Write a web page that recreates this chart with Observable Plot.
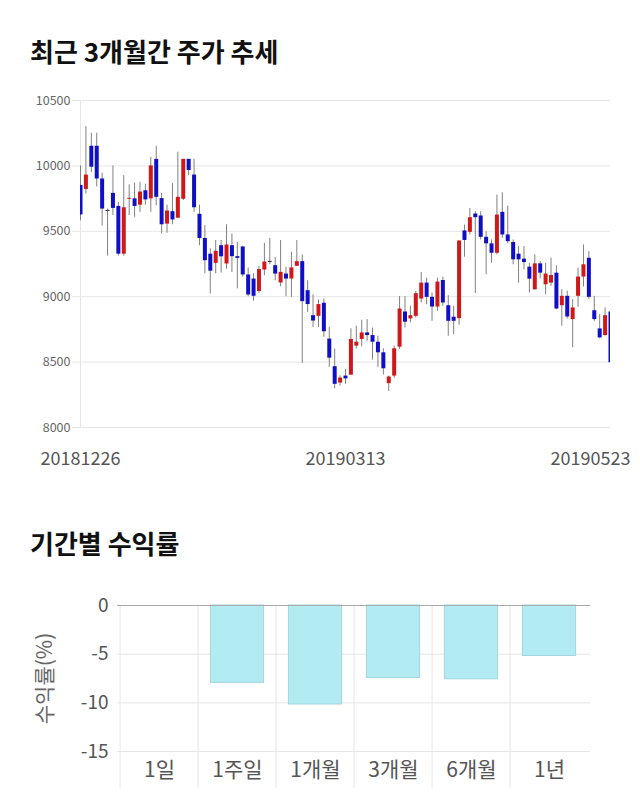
<!DOCTYPE html>
<html><head><meta charset="utf-8">
<script src="https://cdn.jsdelivr.net/npm/d3@7"></script>
<script src="https://cdn.jsdelivr.net/npm/@observablehq/plot@0.6"></script>
<style>
body{margin:0;background:#fff;width:640px;height:810px;position:relative;overflow:hidden;font-family:"Noto Sans CJK KR","Noto Sans",sans-serif;}
.title{position:absolute;left:30px;font-size:26px;font-weight:700;line-height:30px;color:#111;white-space:nowrap}
#c1{position:absolute;left:0;top:80px}
#c2{position:absolute;left:0;top:580px}
</style></head><body>
<div class="title" style="top:36px">최근 3개월간 주가 추세</div>
<div id="c1"></div>
<div class="title" style="top:528px">기간별 수익률</div>
<div id="c2"></div>
<script>
// ---- Candlestick data (daily, 20181226 .. 20190523) ----
const open  = [9850,9820,10150,10150,9900,9660,9790,9690,9325,9745,9748,9700,9810,9748,10050,9750,9555,9650,9600,9745,10050,9930,9630,9445,9325,9255,9390,9250,9390,9306,9380,9166,9135,9040,9204,9270,9237,9105,9173,9135,9232,9268,9046,8855,8850,8950,8676,8465,8340,8393,8400,8622,8673,8723,8703,8652,8571,8335,8393,8614,8883,8830,8850,8982,9104,8995,8921,9124,8931,8843,8832,9503,9492,9632,9617,9454,9404,9332,9645,9472,9414,9325,9287,9226,9053,9251,9091,9104,9180,8931,9003,8825,9003,9150,9294,8893,8754,8703,8883];
const high  = [10000,10300,10250,10250,9945,9670,10000,9720,9925,9855,9870,9875,9860,10065,10150,9790,9700,9865,10105,10050,10050,10050,9700,9545,9365,9430,9430,9550,9480,9415,9385,9220,9175,9230,9408,9445,9300,9430,9225,9340,9430,9320,9122,9015,8975,8982,8765,8600,8395,8445,8755,8775,8820,8825,8760,8698,8602,8393,8622,9002,9002,8926,9040,9185,9142,9028,9142,9150,9008,8926,9426,9548,9675,9650,9650,9497,9434,9777,9794,9693,9434,9383,9383,9256,9320,9269,9256,9294,9236,9053,9041,8977,9218,9396,9345,9003,8863,8914,8883];
const low   = [9580,9785,9950,9840,9540,9310,9620,9310,9310,9620,9607,9645,9700,9645,9695,9480,9485,9550,9595,9735,9925,9645,9390,9175,9020,9175,9180,9210,9185,9060,9148,9000,8965,9025,9160,9245,9122,9076,9000,8995,9230,8490,8880,8765,8765,8690,8460,8295,8318,8330,8398,8600,8617,8660,8515,8457,8401,8274,8376,8596,8761,8800,8838,8952,8939,8812,8888,8926,8698,8710,8782,9302,9472,9025,9434,9168,9256,9320,9447,9404,9244,9104,9206,9028,9048,9135,9015,9079,8901,8774,8830,8609,8919,9074,8977,8812,8678,8698,8370];
const close = [9625,9930,9990,9900,9670,9660,9675,9325,9680,9752,9690,9800,9740,10000,9760,9550,9655,9587,9760,10050,9965,9680,9445,9275,9195,9347,9305,9395,9306,9293,9166,9013,9003,9207,9265,9270,9173,9186,9135,9220,9268,8962,8940,8814,8940,8732,8530,8330,8378,8372,8673,8652,8723,8703,8652,8571,8449,8386,8602,8906,8805,8855,9023,9104,8995,8921,9112,8952,8812,8812,9426,9430,9604,9604,9454,9404,9332,9624,9472,9421,9282,9282,9261,9134,9251,9180,9173,9162,8906,9003,8845,8914,9150,9244,8995,8825,8685,8855,8495];
const priceTicks = [8000, 8500, 9000, 9500, 10000, 10500];
const dateTickIndex = [0, 49, 98];
const dateTickLabels = ["20181226", "20190313", "20190523"];

// ---- Period returns data ----
const periods = ["1일", "1주일", "1개월", "3개월", "6개월", "1년"];
const returns = [0, -7.95, -10.17, -7.44, -7.58, -5.19];
const returnTicks = [0, -5, -10, -15];

const RED = "#d01818", BLUE = "#0f0fc6";
const candles = open.map((o, i) => ({i, o, h: high[i], l: low[i], c: close[i]}));
const candleColor = d => d.c > d.o ? RED : d.c < d.o ? BLUE : "#333";
const dateTicks = dateTickIndex.map((i, k) => ({i, label: dateTickLabels[k]}));
const FONT = "'Noto Sans CJK KR', 'Noto Sans', sans-serif";

const chart1 = Plot.plot({
  width: 640, height: 400,
  marginLeft: 80, marginRight: 30, marginTop: 20, marginBottom: 53,
  style: {fontFamily: FONT, background: "white", overflow: "visible"},
  x: {type: "linear", domain: [0, candles.length - 1], axis: null},
  y: {domain: [8000, 10500], axis: null},
  marks: [
    Plot.gridY(priceTicks, {stroke: "#e6e6e6", strokeOpacity: 1}),
    Plot.axisY(priceTicks, {tickSize: 8, tickPadding: 2, stroke: "#e6e6e6", strokeOpacity: 1, fill: "#666", fontSize: 12.5, tickFormat: d => String(d), label: null}),
    Plot.ruleX([0], {stroke: "#e6e6e6"}),
    Plot.ruleX(candles, {x: "i", y1: "l", y2: "h", stroke: "#808080", strokeWidth: 1, clip: true}),
    Plot.ruleX(candles, {x: "i", y1: "o", y2: d => d.c === d.o ? d.o - 8 : d.c, stroke: candleColor, strokeWidth: 4, strokeLinecap: "butt", clip: true}),
    Plot.text(dateTicks.slice(0, 2), {x: "i", text: "label", frameAnchor: "bottom", dy: 37, fontSize: 18, fill: "#555"}),
    Plot.text(dateTicks.slice(2), {x: "i", text: "label", frameAnchor: "bottom", dy: 37, dx: 20, textAnchor: "end", fontSize: 18, fill: "#555"})
  ]
});
document.getElementById("c1").appendChild(chart1);

const returnData = periods.map((p, i) => ({p, v: returns[i]}));
const chart2 = Plot.plot({
  width: 640, height: 215,
  marginLeft: 117, marginRight: 50, marginTop: 25, marginBottom: 44,
  style: {fontFamily: FONT, background: "white", overflow: "visible"},
  x: {domain: periods, padding: 0, axis: null},
  y: {domain: [-15, 0], axis: null},
  marks: [
    Plot.ruleY(returnTicks.filter(d => d !== 0), {y: d => d, stroke: "#e6e6e6"}),
    Plot.ruleX(periods, {x: d => d, y1: 0, y2: -18.8, dx: -39.4, stroke: "#e6e6e6"}),
    Plot.barY(returnData, {x: "p", y: "v", fill: "#b2ebf2", stroke: "#a3d6de", strokeWidth: 1, insetLeft: 12.4, insetRight: 12.4}),
    Plot.ruleY([0], {stroke: "#aaa"}),
    Plot.axisY(returnTicks, {tickSize: 0, tickPadding: 9, fill: "#555", fontSize: 19, tickFormat: d => String(d), label: null}),
    Plot.axisX({tickSize: 0, tickPadding: 11, fill: "#555", fontSize: 21, label: null}),
    Plot.text(["수익률(%)"], {text: d => d, frameAnchor: "left", textAnchor: "middle", rotate: -90, dx: -72, fontSize: 21, fill: "#666"})
  ]
});
document.getElementById("c2").appendChild(chart2);
</script>
</body></html>
